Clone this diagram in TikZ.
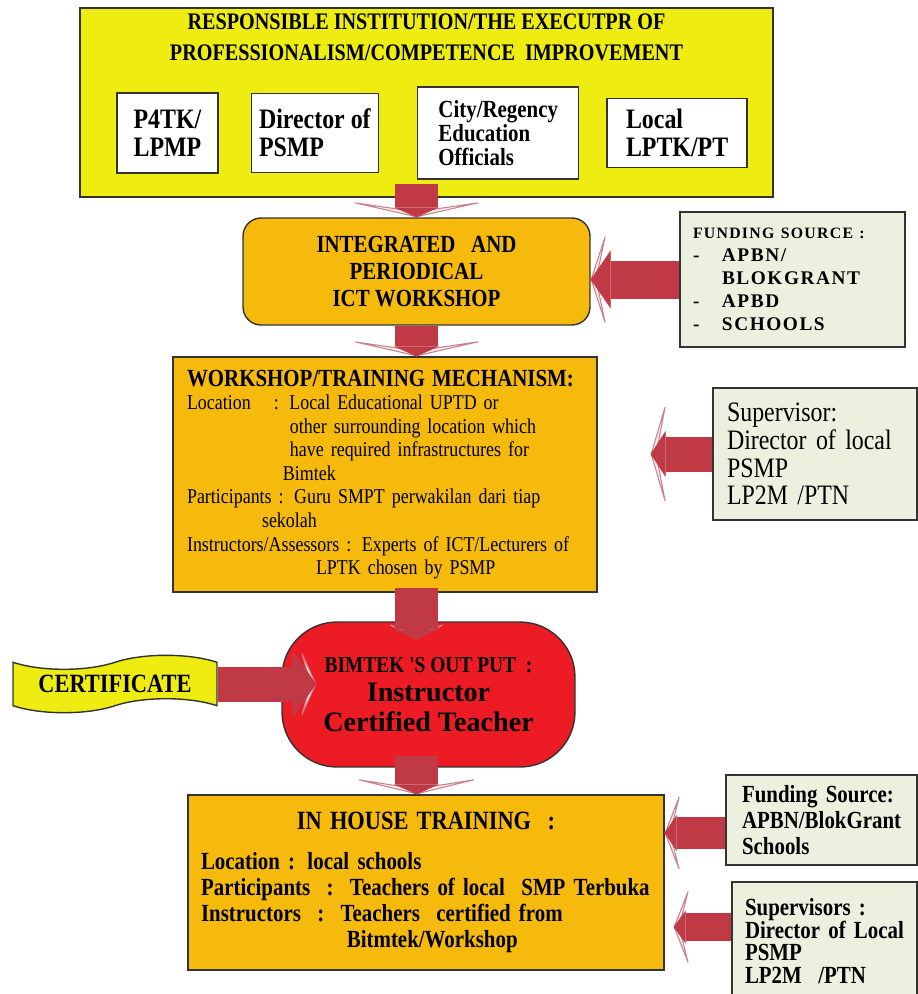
\documentclass[tikz,border=0pt]{standalone}
\usepackage{fontspec}
\setmainfont{Liberation Serif}
\newfontfamily\narrowfont[FakeStretch=0.85]{Liberation Serif}
\newfontfamily\spacedfont[LetterSpace=8]{Liberation Serif}
\usetikzlibrary{arrows.meta,positioning,shapes.symbols}

\definecolor{boxyellow}{RGB}{238,236,16}
\definecolor{boxorange}{RGB}{246,186,12}
\definecolor{boxgreen}{RGB}{235,241,222}
\definecolor{outred}{RGB}{237,28,36}
\definecolor{arrowred}{RGB}{192,58,70}
\definecolor{arrowpale}{RGB}{246,236,238}
\definecolor{arrowedge}{RGB}{200,130,140}

\tikzset{
panel/.style={draw=black!80, line width=0.8pt}, % frame of every box
yellowbox/.style={panel, fill=boxyellow},
unitbox/.style={panel, fill=white, align=left, font=\narrowfont\bfseries\fontsize{16}{16}\selectfont},
orangebox/.style={panel, fill=boxorange},
greenbox/.style={panel, fill=boxgreen, align=left},
flow/.style n args={4}{draw=arrowred, line width=#1, % shaft, red head width, red head length, pale wing width
  -{Triangle[width=#2, length=#3, line width=0.3pt]},
  preaction={draw=arrowpale, line width=0.4pt,
    -{Stealth[width=#4, length=0.34cm, inset=0.22cm, fill=arrowpale, color=arrowedge, line width=0.6pt]}}},
}

\begin{document}
\begin{tikzpicture}[x=0.02cm, y=-0.02cm]
	\useasboundingbox (0,0) rectangle (917,994);

	% executors
	\node[yellowbox, minimum width=13.86cm, minimum height=3.78cm] (top) at (426.5,102.5) {};
	\node[align=center, font=\narrowfont\bfseries\fontsize{13.5}{17.6}\selectfont] (toptitle) at (426.5,37.5)
		{RESPONSIBLE INSTITUTION/THE EXECUTPR OF\\PROFESSIONALISM/COMPETENCE\ \ IMPROVEMENT};
	\node[unitbox, minimum width=2.02cm, minimum height=1.6cm] (p4tk) at (167.5,133) {P4TK/\\LPMP};
	\node[unitbox, minimum width=2.54cm, minimum height=1.58cm, right=0.64cm of p4tk] (director) {Director of\\PSMP};
	\node[unitbox, minimum width=3.22cm, minimum height=1.84cm, right=0.76cm of director,
		font=\narrowfont\bfseries\fontsize{14}{13.7}\selectfont] (city) {City/Regency\\Education\\Officials};
	\node[unitbox, minimum width=2.8cm, minimum height=1.38cm, right=0.54cm of city] (local) {Local\\LPTK/PT};

	% workshop
	\node[orangebox, rounded corners=0.36cm, minimum width=6.94cm, minimum height=2.14cm, align=center,
		font=\narrowfont\bfseries\fontsize{14}{15.4}\selectfont] (ict) at (416.5,271.5)
		{INTEGRATED\ \ \ AND\\PERIODICAL\\ICT WORKSHOP};
	\node[greenbox, text width=3.98cm, inner xsep=0.26cm, minimum height=2.7cm,
		font=\spacedfont\bfseries\fontsize{11}{13}\selectfont] (fund) at (792.5,279.5)
		{{\fontsize{9}{13}\selectfont FUNDING SOURCE :}\\
		 \makebox[16.5pt][l]{-}APBN/\\
		 \hspace*{16.5pt}BLOKGRANT\\
		 \makebox[16.5pt][l]{-}APBD\\
		 \makebox[16.5pt][l]{-}SCHOOLS};

	\node[orangebox, text width=7.92cm, inner xsep=0.28cm, minimum height=4.7cm, align=left,
		font=\narrowfont\fontsize{12}{13.4}\selectfont] (mech) at (385,474.5)
		{{\bfseries\fontsize{14}{14}\selectfont WORKSHOP/TRAINING MECHANISM:}\\
		 Location\hspace{1.1em}: Local Educational UPTD or\\
		 \hspace*{58.6pt}other surrounding location which\\
		 \hspace*{58.6pt}have required infrastructures for\\
		 \hspace*{54.6pt}Bimtek\\
		 Participants : Guru SMPT perwakilan dari tiap\\
		 \hspace*{42.7pt}sekolah\\
		 Instructors/Assessors : Experts of ICT/Lecturers of\\
		 \hspace*{73.4pt}LPTK chosen by PSMP};
	\node[greenbox, text width=3.52cm, inner xsep=0.28cm, minimum height=2.64cm,
		font=\narrowfont\fontsize{16}{15.8}\selectfont] (sup) at (815,454)
		{Supervisor:\\Director of local\\PSMP\\LP2M /PTN};

	% output
	\node[draw=black!80, line width=0.8pt, fill=outred, rounded corners=1.1cm, minimum width=5.86cm,
		minimum height=2.9cm, align=center, font=\bfseries\fontsize{16}{17}\selectfont] (bimtek) at (428.5,694.5)
		{{\narrowfont\fontsize{13}{13}\selectfont BIMTEK 'S OUT PUT\ \ :}\\Instructor\\Certified Teacher};
	\node[tape, draw=black!80, line width=0.8pt, fill=boxyellow, minimum width=4.08cm, minimum height=1.1cm,
		tape bend height=0.28cm, font=\narrowfont\bfseries\fontsize{15}{15}\selectfont] (cert) at (115,684) {CERTIFICATE};

	% in house training
	\node[orangebox, text width=9cm, inner xsep=0.26cm, minimum height=3.5cm, align=left,
		font=\narrowfont\bfseries\fontsize{14}{14.8}\selectfont] (house) at (426,882.5)
		{\makebox[9cm][c]{\fontsize{15}{15}\selectfont IN HOUSE TRAINING\ \ :}\\[8pt]
		 Location : local schools\\
		 Participants\ \ :\ \ Teachers of local\ \ SMP Terbuka\\
		 Instructors\ \ :\ \ Teachers\ \ certified from\\
		 \hspace*{83pt}Bitmtek/Workshop};
	\node[greenbox, text width=3.18cm, inner xsep=0.32cm, minimum height=1.8cm,
		font=\narrowfont\bfseries\fontsize{14}{15}\selectfont] (fund2) at (821.5,820)
		{Funding Source:\\APBN/BlokGrant\\Schools};
	\node[greenbox, text width=3.18cm, inner xsep=0.26cm, minimum height=2.36cm,
		font=\narrowfont\bfseries\fontsize{14}{13}\selectfont] (sup2) at (824.5,941)
		{Supervisors :\\Director of Local\\PSMP\\LP2M\ \ /PTN};

	% block arrows
	\draw[flow={0.86cm}{0.9cm}{0.2cm}{3cm}, shorten <=-0.28cm] (top.south -| ict.north) -- (ict.north);
	\draw[flow={0.86cm}{0.9cm}{0.2cm}{3cm}] (ict.south) -- (ict.south |- mech.north);
	\draw[flow={0.86cm}{0.9cm}{0.2cm}{1.3cm}, shorten <=-0.1cm, shorten >=-0.36cm] (mech.south -| ict.south) -- (bimtek.north -| ict.south);
	\draw[flow={0.86cm}{0.9cm}{0.2cm}{2.8cm}, shorten <=-0.24cm] (bimtek.south -| ict.south) -- (house.north -| ict.south);

	\draw[flow={0.76cm}{1.16cm}{0.4cm}{2.1cm}] (fund.west) -- (fund.west -| ict.east);
	\draw[flow={0.7cm}{0.92cm}{0.3cm}{2.3cm}, shorten >=1.06cm] (sup.west) -- (sup.west -| mech.east);
	\draw[flow={0.7cm}{1.34cm}{0.48cm}{1.5cm}, shorten >=-0.7cm] (cert.east) -- (cert.east -| bimtek.west);
	\draw[flow={0.64cm}{0.72cm}{0.24cm}{1.76cm}] ([yshift=-0.26cm]fund2.west) -- ([yshift=-0.26cm]fund2.west -| house.east);
	\draw[flow={0.56cm}{0.66cm}{0.24cm}{1.74cm}, shorten >=0.18cm] ([yshift=0.28cm]sup2.west) -- ([yshift=0.28cm]sup2.west -| house.east);
\end{tikzpicture}
\end{document}
